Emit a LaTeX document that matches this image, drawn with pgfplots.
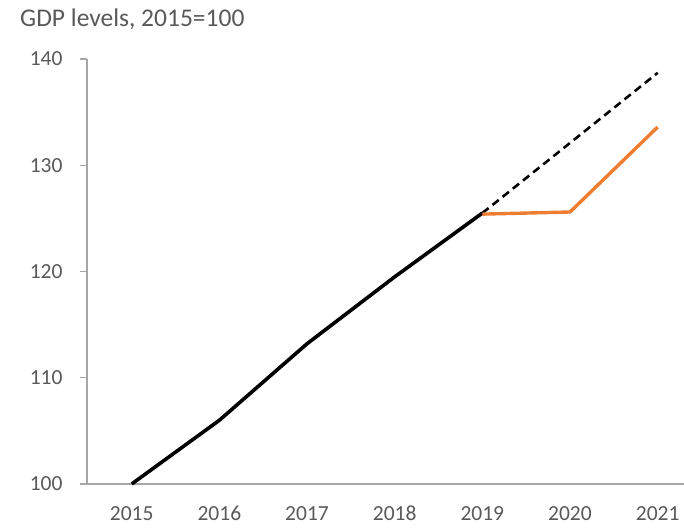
\documentclass[border=0pt]{standalone}
\usepackage{pgfplots}
\pgfplotsset{compat=1.18}
\usepackage{fontspec}
\setmainfont{Carlito}
\definecolor{txt}{RGB}{89,89,89}
\definecolor{axgray}{RGB}{166,166,166}
\definecolor{orng}{RGB}{237,125,49}
\begin{document}
\begin{tikzpicture}[x=1pt,y=1pt]
\path[use as bounding box] (0,0) rectangle (684,527);
\node[anchor=base west, text=txt, font=\fontsize{25.5}{28}\selectfont, inner sep=0] at (20,500) {GDP levels, 2015=100};
\begin{axis}[
  at={(87pt,43pt)}, anchor=south west,
  scale only axis, width=597pt, height=425pt,
  xmin=2014.49, xmax=2021.3, ymin=100, ymax=140,
  axis x line=bottom, axis y line=left,
  axis line style={axgray, line width=1.2pt, -},
  xtick={2015,...,2021}, ytick={100,110,...,140},
  xticklabels={2015,2016,2017,2018,2019,2020,2021},
  x tick style={draw=none},
  y tick style={axgray, line width=1.2pt},
  tick align=outside, major tick length=7pt,
  tick label style={text=txt, font=\fontsize{21.5}{24}\selectfont},
  /pgf/number format/assume math mode=true,
  xticklabel style={anchor=base, text height=15pt, text depth=0pt, inner sep=0pt, yshift=-29pt},
  yticklabel style={xshift=-14pt},
  clip=false,
]
\addplot[black, line width=3.6pt, line join=round] coordinates {(2015,100) (2016,106.0) (2017,113.2) (2018,119.5) (2019,125.5)};
\addplot[black, line width=2.6pt, dash pattern=on 8pt off 5pt] coordinates {(2019,125.5) (2020,132.1) (2021,138.7)};
\addplot[orng, line width=3.4pt, line join=round] coordinates {(2019,125.4) (2020,125.6) (2021,133.6)};
\end{axis}
\end{tikzpicture}
\end{document}
